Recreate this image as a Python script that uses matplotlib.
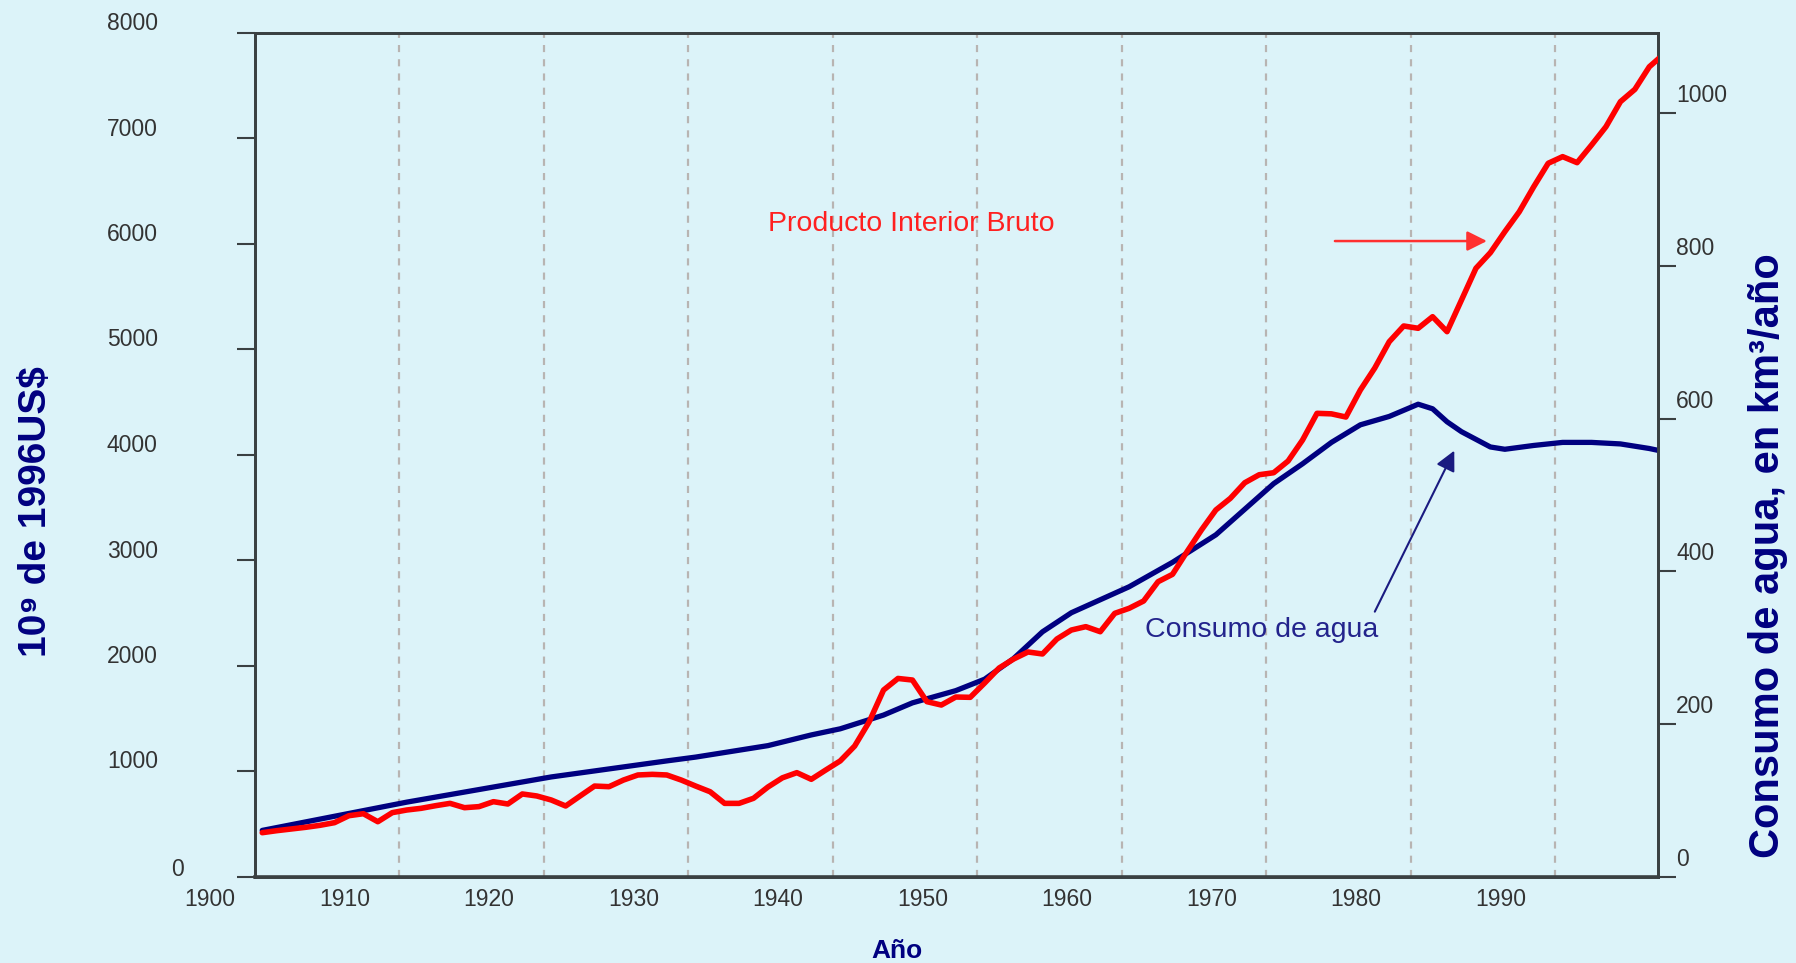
import matplotlib
matplotlib.use("Agg")
import matplotlib.pyplot as plt
import matplotlib.transforms as mtransforms

plt.rcParams['font.family'] = ['Liberation Sans', 'DejaVu Sans']

# Producto Interior Bruto, 10^9 de 1996 US$ (eje izquierdo)
pib_years = list(range(1900, 1998))
pib_values = [
    420, 439, 455, 471, 490, 515, 581, 600, 524, 610,      # 1900-1909
    635, 651, 676, 698, 657, 667, 714, 692, 787, 768,      # 1910-1919
    730, 673, 768, 862, 856, 919, 967, 973, 967, 919,      # 1920-1929
    862, 808, 698, 698, 746, 853, 940, 989, 926, 1014,     # 1930-1939
    1100, 1241, 1469, 1772, 1882, 1867, 1662, 1630, 1706, 1703,  # 1940-1949
    1839, 1981, 2066, 2133, 2114, 2256, 2341, 2373, 2325, 2499,  # 1950-1959
    2547, 2616, 2799, 2869, 3083, 3289, 3479, 3589, 3737, 3813,  # 1960-1969
    3832, 3943, 4142, 4395, 4390, 4360, 4616, 4825, 5074, 5223,  # 1970-1979
    5201, 5311, 5169, 5469, 5770, 5918, 6117, 6306, 6543, 6765,  # 1980-1989
    6828, 6771, 6938, 7112, 7349, 7466, 7680, 7800,              # 1990-1997
]

# Consumo de agua, km3/año (eje derecho)
agua_years = [1900, 1910, 1920, 1928, 1930, 1935, 1938, 1940, 1943, 1945,
              1948, 1950, 1952, 1954, 1956, 1958, 1960, 1963, 1966, 1970,
              1972, 1974, 1976, 1978, 1980, 1981, 1982, 1983, 1985, 1986,
              1988, 1990, 1992, 1994, 1996, 1997]
agua_values = [61, 98, 131, 152, 157, 172, 186, 194, 212, 228,
               244, 259, 286, 321, 346, 363, 380, 412, 448, 515,
               541, 569, 592, 603, 619, 613, 596, 583, 563, 560,
               565, 569, 569, 567, 561, 557]

x_labels = ['1900', '1910', '1920', '1930', '1940', '1950', '1960', '1970', '1980', '1990']
pib_ticks = [0, 1000, 2000, 3000, 4000, 5000, 6000, 7000, 8000]
agua_ticks = [0, 200, 400, 600, 800, 1000]

bg = '#dcf3f9'
spine_c = '#3a4042'
tick_txt = '#333333'
navy = '#000080'
red = '#ff0000'

W, H = 1796, 963
fig = plt.figure(figsize=(W / 100, H / 100), dpi=100, facecolor=bg)
ax_w = fig.add_axes([255 / W, 1 - 877 / H, (1658 - 255) / W, (877 - 33) / H])
ax_w.set_facecolor(bg)
ax_g = ax_w.twinx()

ax_w.plot(agua_years, agua_values, color=navy, lw=3.8,
          solid_capstyle='round', solid_joinstyle='round', zorder=3)
ax_g.plot(pib_years, pib_values, color=red, lw=4.0,
          solid_capstyle='round', solid_joinstyle='round', zorder=3)

ax_w.set_xlim(1899.5, 1996.6)
ax_w.set_ylim(0, 1105)
ax_g.set_ylim(0, 8000)

# swap sides: water on the right, GDP on the left (GDP drawn on top)
ax_w.yaxis.set_ticks_position('right')
ax_g.yaxis.set_ticks_position('left')
ax_w.set_yticks(agua_ticks)
ax_g.set_yticks(pib_ticks)

# gridlines fall between the yearly categories
ax_w.set_xticks([int(l) - 0.5 for l in x_labels], x_labels)
ax_w.grid(axis='x', color='#b8b4b2', linestyle=(0, (3.2, 3.2)), linewidth=1.6)
ax_w.set_axisbelow(True)

ax_w.tick_params(axis='x', length=0, pad=8, labelsize=16.5, labelcolor=tick_txt)
ax_w.tick_params(axis='y', direction='out', length=13, width=1.5, color=spine_c,
                 pad=0, labelsize=16.5, labelcolor=tick_txt)
ax_g.tick_params(axis='y', direction='out', length=13, width=1.5, color=spine_c,
                 pad=57, labelsize=16.5, labelcolor=tick_txt)

for a in (ax_w, ax_g):
    for s in a.spines.values():
        s.set_color(spine_c)
        s.set_linewidth(2)
ax_w.spines['bottom'].set_linewidth(2.6)


def shift(ticks, dx, dy):
    off = mtransforms.ScaledTranslation(dx / 100, dy / 100, fig.dpi_scale_trans)
    for t in ticks:
        for lbl in (t.label1, t.label2):
            lbl.set_transform(lbl.get_transform() + off)


xt = ax_w.xaxis.get_major_ticks()
shift(xt[:1], -45, 0)
shift(xt[1:], -55, 0)
shift(ax_w.yaxis.get_major_ticks(), 0, 20)
yt = ax_g.yaxis.get_major_ticks()
shift(yt[:1], 26, 10)
shift(yt[1:], 0, 12)

# annotations
ax_g.text(1944.9, 6123, 'Producto Interior Bruto', ha='center', va='baseline',
          color='#ff2020', fontsize=20.5)
ax_g.annotate('', xy=(1984.76, 6028), xytext=(1974.24, 6028),
              arrowprops=dict(arrowstyle='-|>,head_length=0.6,head_width=0.3',
                              color='#ff3030', lw=1.8, shrinkA=0, shrinkB=0,
                              mutation_scale=20))
ax_g.text(1969.2, 2275, 'Consumo de agua', ha='center', va='baseline',
          color='#23238c', fontsize=20.5)
ax_g.annotate('', xy=(1982.5, 4041), xytext=(1977.0, 2515),
              arrowprops=dict(arrowstyle='-|>,head_length=0.6,head_width=0.3',
                              color='#1a1a80', lw=1.5, shrinkA=0, shrinkB=0,
                              mutation_scale=20))

# axis titles
fig.text(36 / W, 1 - 512 / H, '10⁹ de 1996US$', rotation=90, ha='center', va='center',
         fontsize=28, fontweight='bold', color=navy)
fig.text(1768 / W, 1 - 556 / H, 'Consumo de agua, en km³/año', rotation=90,
         ha='center', va='center', fontsize=30, fontweight='bold', color=navy)
fig.text(897 / W, 1 - 958 / H, 'Año', ha='center', va='baseline',
         fontsize=19, fontweight='bold', color=navy)

fig.savefig('out.png', dpi=100, facecolor=bg)
